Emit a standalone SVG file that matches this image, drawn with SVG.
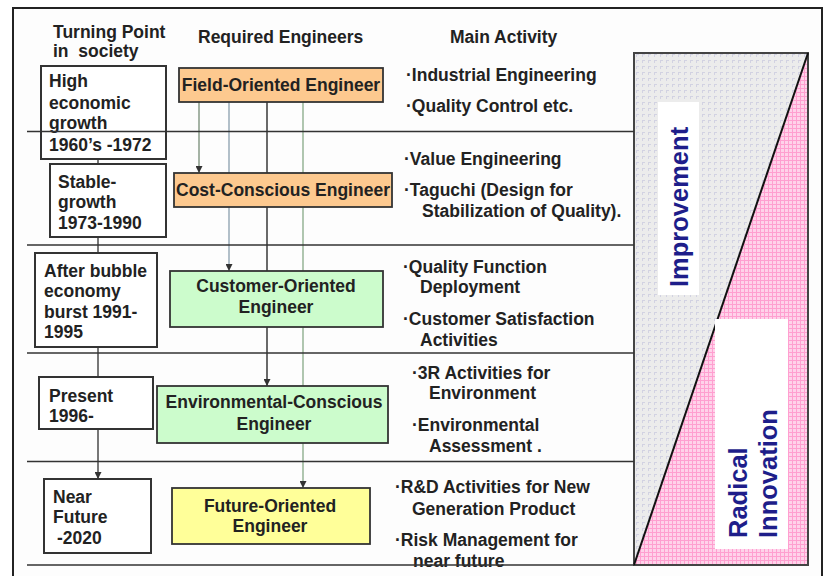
<svg xmlns="http://www.w3.org/2000/svg" width="827" height="576" viewBox="0 0 827 576">
<defs>
<style>
text{font-family:"Liberation Sans",Arial,sans-serif;font-weight:bold;font-size:17.5px;fill:#222;}
.c{text-anchor:middle;}
.box{fill:#fff;stroke:#333;stroke-width:2;}
.org{fill:#fdc98f;stroke:#333;stroke-width:1.8;}
.grn{fill:#ccfccc;stroke:#333;stroke-width:1.8;}
.yel{fill:#ffff99;stroke:#333;stroke-width:1.8;}
.div{stroke:#333;stroke-width:1.6;fill:none;}
.big{font-size:25.5px;fill:#1e1e8a;}
</style>
<marker id="ah" viewBox="0 0 8 8" refX="8" refY="4" markerWidth="7" markerHeight="7" markerUnits="userSpaceOnUse" orient="auto">
<path d="M0,0 L8,4 L0,8 Z" fill="#333"/>
</marker>
<pattern id="gp" width="6" height="6" patternUnits="userSpaceOnUse">
<rect width="6" height="6" fill="#ececec"/>
<path d="M0,0.5 H3 M0.5,0 V3" stroke="#d2d2e2" stroke-width="1"/>
</pattern>
<pattern id="pp" width="4" height="4" patternUnits="userSpaceOnUse">
<rect width="4" height="4" fill="#ffd2ea"/>
<path d="M0,0.5 H4 M0.5,0 V4" stroke="#ff9fd0" stroke-width="1"/>
</pattern>
</defs>
<rect width="827" height="576" fill="#fff"/>
<rect x="13" y="8" width="809" height="580" fill="#fdfdfd" stroke="#222" stroke-width="2"/>

<g id="headers">
<text x="53" y="38">Turning Point</text>
<text x="53" y="57">in &#160;society</text>
<text x="198" y="43">Required Engineers</text>
<text x="450" y="43">Main Activity</text>
</g>

<g id="panel">
<rect x="634" y="53" width="174" height="512" fill="url(#gp)" stroke="#444" stroke-width="2"/>
<polygon points="808,53 808,565 634,565" fill="url(#pp)"/>
<rect x="634" y="53" width="174" height="512" fill="none" stroke="#444" stroke-width="2"/>
<line x1="808" y1="53" x2="634" y2="565" stroke="#111" stroke-width="2"/>
<rect x="658" y="102" width="41" height="193" fill="#fff"/>
<rect x="715" y="319" width="73" height="230" fill="#fff"/>
<text class="big" transform="translate(688,287) rotate(-90)">Improvement</text>
<text class="big" transform="translate(747,538) rotate(-90)">Radical</text>
<text class="big" transform="translate(777,538) rotate(-90)">Innovation</text>
</g>

<g id="connectors" fill="none" stroke-width="1.6">
<line x1="98" y1="159" x2="98" y2="479" stroke="#555" marker-end="url(#ah)"/>
<line x1="199" y1="102" x2="199" y2="173" stroke="#8fa08f" marker-end="url(#ah)"/>
<line x1="229" y1="102" x2="229" y2="271" stroke="#9fb0bc" marker-end="url(#ah)"/>
<line x1="267" y1="102" x2="267" y2="386" stroke="#444" marker-end="url(#ah)"/>
<line x1="303" y1="102" x2="303" y2="488" stroke="#9cb89c" marker-end="url(#ah)"/>
</g>

<g id="tp1"><rect class="box" x="41" y="66" width="125" height="93"/>
<text x="49" y="87">High</text><text x="49" y="109">economic</text><text x="49" y="129">growth</text><text x="49" y="151">1960’s -1972</text></g>
<g id="tp2"><rect class="box" x="50" y="164" width="116" height="73"/>
<text x="58" y="188">Stable-</text><text x="58" y="208">growth</text><text x="58" y="229">1973-1990</text></g>
<g id="tp3"><rect class="box" x="35" y="253" width="122" height="94"/>
<text x="44" y="277">After bubble</text><text x="44" y="297">economy</text><text x="44" y="318">burst 1991-</text><text x="44" y="338">1995</text></g>
<g id="tp4"><rect class="box" x="39" y="377" width="114" height="52"/>
<text x="49" y="402">Present</text><text x="49" y="422">1996-</text></g>
<g id="tp5"><rect class="box" x="44" y="479" width="107" height="74"/>
<text x="53" y="503">Near</text><text x="53" y="523">Future</text><text x="57" y="544">-2020</text></g>

<g id="eng1"><rect class="org" x="179" y="68" width="204" height="34"/>
<text class="c" x="281" y="91">Field-Oriented Engineer</text></g>
<g id="eng2"><rect class="org" x="174" y="173" width="218" height="34"/>
<text class="c" x="283" y="196">Cost-Conscious Engineer</text></g>
<g id="eng3"><rect class="grn" x="170" y="271" width="213" height="56"/>
<text class="c" x="276" y="292">Customer-Oriented</text><text class="c" x="276" y="313">Engineer</text></g>
<g id="eng4"><rect class="grn" x="157" y="386" width="231" height="57"/>
<text class="c" x="274" y="408">Environmental-Conscious</text><text class="c" x="274" y="430">Engineer</text></g>
<g id="eng5"><rect class="yel" x="172" y="488" width="198" height="56"/>
<text class="c" x="270" y="512">Future-Oriented</text><text class="c" x="270" y="532">Engineer</text></g>

<g id="activities">
<text x="406" y="81">·Industrial Engineering</text>
<text x="406" y="111.5">·Quality Control etc.</text>
<text x="404" y="164.5">·Value Engineering</text>
<text x="404" y="195.5">·Taguchi (Design for</text>
<text x="422" y="216.5">Stabilization of Quality).</text>
<text x="403" y="273">·Quality Function</text>
<text x="420" y="293">Deployment</text>
<text x="403" y="324.5">·Customer Satisfaction</text>
<text x="420" y="345.5">Activities</text>
<text x="412" y="379">·3R Activities for</text>
<text x="429" y="399">Environment</text>
<text x="412" y="431">·Environmental</text>
<text x="429" y="451.5">Assessment .</text>
<text x="395" y="493">·R&amp;D Activities for New</text>
<text x="412" y="514.5">Generation Product</text>
<text x="395" y="546">·Risk Management for</text>
<text x="413" y="567">near future</text>
</g>

<g id="dividers" class="div">
<line class="div" x1="27" y1="131.5" x2="634" y2="131.5"/>
<line class="div" x1="27" y1="245" x2="634" y2="245"/>
<line class="div" x1="27" y1="353" x2="634" y2="353"/>
<line class="div" x1="27" y1="461.5" x2="634" y2="461.5"/>
<line class="div" x1="27" y1="565" x2="634" y2="565"/>
</g>
</svg>
